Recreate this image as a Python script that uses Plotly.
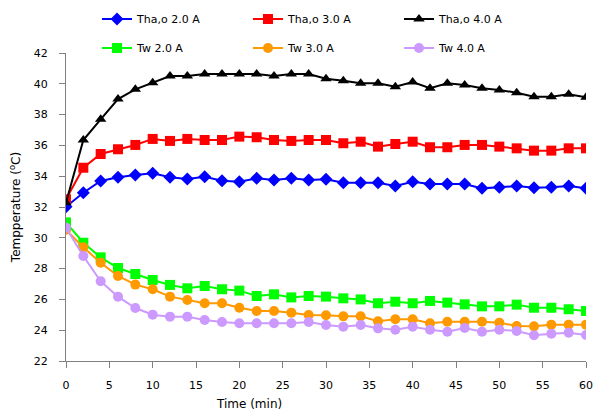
import plotly.graph_objects as go

time = list(range(0, 61, 2))

tha_2 = [32.02, 32.93, 33.69, 33.93, 34.08, 34.19, 33.93, 33.82, 33.97, 33.71, 33.64, 33.86, 33.75, 33.86, 33.75,
         33.8, 33.58, 33.58, 33.58, 33.36, 33.64, 33.49, 33.49, 33.49, 33.21, 33.28, 33.36, 33.25, 33.28, 33.36, 33.21]
tha_3 = [32.5, 34.55, 35.44, 35.75, 36.03, 36.42, 36.29, 36.42, 36.35, 36.35, 36.57, 36.53, 36.35, 36.29, 36.35,
         36.35, 36.14, 36.24, 35.92, 36.09, 36.24, 35.88, 35.88, 36.03, 36.03, 35.92, 35.81, 35.66, 35.66, 35.81, 35.81]
tha_4 = [32.28, 36.35, 37.69, 39.01, 39.64, 40.07, 40.51, 40.51, 40.64, 40.64, 40.64, 40.64, 40.51, 40.64, 40.64,
         40.33, 40.2, 40.03, 40.03, 39.81, 40.12, 39.71, 40.03, 39.92, 39.71, 39.6, 39.42, 39.16, 39.16, 39.32, 39.12]
tw_2 = [31.0, 29.68, 28.73, 28.04, 27.65, 27.26, 26.94, 26.72, 26.87, 26.66, 26.57, 26.22, 26.33, 26.13, 26.22,
        26.18, 26.07, 26.0, 25.75, 25.85, 25.75, 25.9, 25.79, 25.68, 25.55, 25.55, 25.66, 25.46, 25.46, 25.36, 25.25]
tw_3 = [30.52, 29.38, 28.38, 27.52, 26.96, 26.66, 26.18, 25.96, 25.75, 25.75, 25.46, 25.25, 25.25, 25.14, 24.99,
        24.97, 24.9, 24.9, 24.58, 24.71, 24.71, 24.45, 24.55, 24.55, 24.55, 24.49, 24.27, 24.25, 24.36, 24.36, 24.36]
tw_4 = [30.65, 28.82, 27.18, 26.18, 25.44, 25.01, 24.88, 24.88, 24.66, 24.53, 24.45, 24.45, 24.45, 24.45, 24.53,
        24.34, 24.23, 24.34, 24.12, 24.03, 24.23, 24.03, 23.9, 24.14, 23.9, 24.03, 23.95, 23.67, 23.77, 23.84, 23.69]

series_names = ["Tha,o 2.0 A", "Tha,o 3.0 A", "Tha,o 4.0 A", "Tw 2.0 A", "Tw 3.0 A", "Tw 4.0 A"]
series_values = [tha_2, tha_3, tha_4, tw_2, tw_3, tw_4]
colors = ["#0000FF", "#FF0000", "#000000", "#00FF00", "#FF9900", "#CC99FF"]
symbols = ["diamond", "square", "triangle-up", "square", "circle", "circle"]
sizes = [10, 10, 10, 10, 10, 10]
legends = ["legend", "legend", "legend", "legend2", "legend2", "legend2"]

x_ticks = list(range(0, 61, 5))
y_ticks = list(range(22, 43, 2))

FONT = "DejaVu Sans"

fig = go.Figure()
for name, vals, c, s, sz, lg in zip(series_names, series_values, colors, symbols, sizes, legends):
    fig.add_trace(go.Scatter(
        x=time, y=vals, name=name, mode="lines+markers",
        line=dict(color=c, width=2),
        marker=dict(color=c, symbol=s, size=sz),
        legend=lg,
    ))

axis_common = dict(
    showgrid=False, zeroline=False, showline=True, linecolor="#808080", linewidth=1,
    ticks="outside", ticklen=6, tickcolor="#808080", tickwidth=1,
    tickfont=dict(family=FONT, size=11, color="#000000"), mirror=False,
)

fig.update_layout(
    width=594, height=415,
    margin=dict(l=66, r=8, t=53, b=54, autoexpand=False),
    paper_bgcolor="white", plot_bgcolor="white",
    font=dict(family=FONT, size=11, color="#000000"),
    xaxis=dict(range=[0, 60], tickvals=x_ticks, ticklabelstandoff=8, **axis_common),
    yaxis=dict(range=[22, 42], tickvals=y_ticks, ticklabelstandoff=9,
               title=dict(text="Tempperature (<sup>o</sup>C)", standoff=10,
                          font=dict(family=FONT, size=12)), **axis_common),
    legend=dict(orientation="h", x=0.0596, xanchor="left", y=1 - 19 / 415, yref="container",
                yanchor="middle", entrywidth=106, entrywidthmode="pixels",
                font=dict(family=FONT, size=11), bgcolor="rgba(0,0,0,0)"),
    legend2=dict(orientation="h", x=0.0596, xanchor="left", y=1 - 48 / 415, yref="container",
                 yanchor="middle", entrywidth=106, entrywidthmode="pixels",
                 font=dict(family=FONT, size=11), bgcolor="rgba(0,0,0,0)"),
    showlegend=True,
    annotations=[dict(text="Time (min)", xref="paper", yref="paper",
                      x=(249 - 66) / 520, y=-(404 - 361) / 308, xanchor="center", yanchor="middle",
                      showarrow=False, font=dict(family=FONT, size=12))],
)

fig.write_html("out.html")
